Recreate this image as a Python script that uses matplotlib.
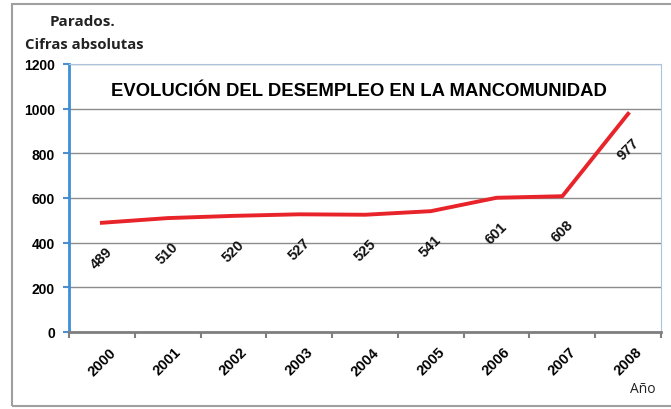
import matplotlib.pyplot as plt
from matplotlib.patches import Rectangle

anios = ['2000', '2001', '2002', '2003', '2004', '2005', '2006', '2007', '2008']
parados = [489, 510, 520, 527, 525, 541, 601, 608, 977]
yticks = [0, 200, 400, 600, 800, 1000, 1200]

fig = plt.figure(figsize=(6.71, 4.10), dpi=100)
fig.patch.set_facecolor('white')

# marco exterior (sin borde derecho visible)
fig.add_artist(Rectangle((12/671, 3/410), 680/671, 402/410, transform=fig.transFigure,
                         fill=False, edgecolor='#a0a0a0', linewidth=1.5))

ax = fig.add_axes([69/671, 1 - 333/410, (661 - 69)/671, (333 - 65)/410])
x = list(range(len(anios)))
ax.plot(x, parados, color='#e8242a', linewidth=2.8, solid_joinstyle='round')

for xi, v in zip(x, parados):
    ax.annotate(str(v), (xi, v), xytext=(0, -25), textcoords='offset points',
                rotation=45, ha='center', va='center', fontsize=10.5,
                fontweight='bold', family='Liberation Sans', color='#111111')

ax.set_xlim(-0.5, len(anios) - 0.5)
ax.set_ylim(0, 1200)
ax.set_yticks(yticks)
ax.set_yticklabels([str(t) for t in yticks], fontsize=10, fontweight='bold',
                   family='Liberation Sans')
ax.set_xticks(x)
ax.set_xticklabels(anios, rotation=45, ha='center', va='top', fontsize=10.5,
                   fontweight='bold', family='Liberation Sans')
ax.tick_params(axis='x', length=0, pad=9)
ax.set_xticks([i - 0.5 for i in range(len(anios) + 1)], minor=True)
ax.tick_params(axis='x', which='minor', length=4, color='#7f7f7f', width=1.5)
ax.tick_params(axis='y', length=4, color='#4f8fcf', width=1.5, pad=6)
ax.yaxis.grid(True, color='#8c8c8c', linewidth=1)
ax.set_axisbelow(True)

ax.spines['left'].set_color('#3d8fd6')
ax.spines['left'].set_linewidth(2)
ax.spines['bottom'].set_color('#7f7f7f')
ax.spines['bottom'].set_linewidth(2)
ax.spines['right'].set_color('#a9c4dc')
ax.spines['top'].set_color('#a9c4dc')

ax.text(0.49, 0.9, 'EVOLUCIÓN DEL DESEMPLEO EN LA MANCOMUNIDAD', transform=ax.transAxes,
        ha='center', va='center', fontsize=13.3, fontweight='bold', family='Liberation Sans')

fig.text(50/671, 1 - 22/410, 'Parados.', fontsize=11, fontweight='bold',
         family='Open Sans', va='center', ha='left', color='#222222')
fig.text(25/671, 1 - 45/410, 'Cifras absolutas', fontsize=10.7, fontweight='bold',
         family='Open Sans', va='center', ha='left', color='#222222')
fig.text(630/671, 1 - 390/410, 'Año', fontsize=10, family='Open Sans',
         va='center', ha='left', color='#222222')

fig.savefig('out.png', dpi=100)
